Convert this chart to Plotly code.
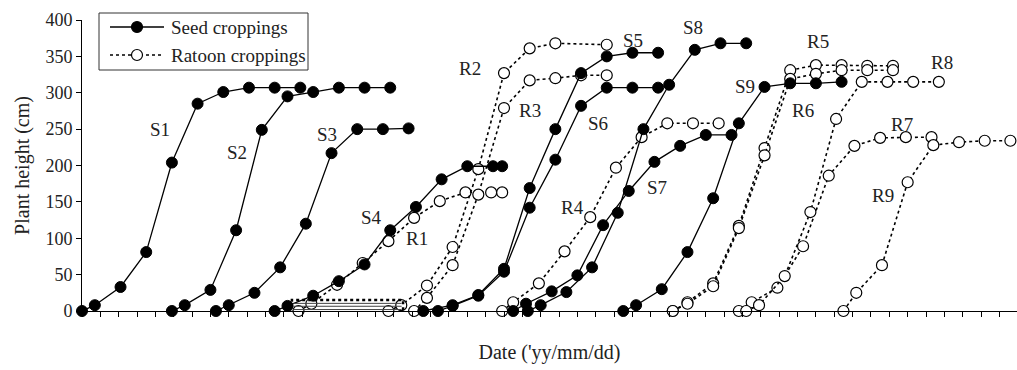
import plotly.graph_objects as go

# ---- data (x = days from start, y = plant height cm) ----
S1_x = [0, 3.5, 10.5, 17.5, 24.5, 31.5, 38.5, 45.5, 52.5, 59.5]
S1_y = [0, 8, 33, 81, 204, 285, 301, 307, 307, 307]
S2_x = [24.5, 28, 35, 42, 49, 56, 63, 70, 77, 84]
S2_y = [0, 8, 29, 111, 249, 295, 301, 307, 307, 307]
S3_x = [36.5, 40, 47, 54, 61, 68, 75, 82, 89]
S3_y = [0, 8, 25, 60, 120, 217, 250, 250, 251]
S4_x = [52.5, 56, 63, 70, 77, 84, 91, 98, 105, 112, 114.5]
S4_y = [0, 7, 21, 41, 64, 111, 143, 181, 199, 199, 199]
S5_x = [93, 101, 108, 115, 122, 129, 136, 143, 150, 157]
S5_y = [0, 8, 22, 58, 169, 250, 327, 350, 355, 355]
S6_x = [97, 101, 108, 115, 122, 129, 136, 143, 150, 157]
S6_y = [0, 7, 21, 54, 142, 208, 282, 307, 307, 307]
S7_x = [117.5, 121, 128, 135, 142, 149, 156, 163, 170, 177]
S7_y = [0, 10, 27, 49, 118, 165, 205, 227, 242, 242]
S8_x = [121.5, 125, 132, 139, 146, 153, 160, 167, 174, 181]
S8_y = [0, 8, 26, 60, 135, 250, 311, 359, 368, 368]
S9_x = [147.5, 151, 158, 165, 172, 179, 186, 193, 200, 207]
S9_y = [0, 8, 30, 81, 155, 258, 308, 313, 313, 315]

R1_x = [59, 62.5, 69.5, 76.5, 83.5, 90.5, 97.5, 104.5, 111.5, 114.5]
R1_y = [0, 10, 36, 66, 96, 128, 151, 163, 163, 163]
R2_x = [83.5, 87, 94, 101, 108, 115, 122, 129, 143]
R2_y = [0, 8, 35, 88, 195, 327, 361, 368, 366]
R3_x = [90.5, 94, 101, 108, 115, 122, 129, 136, 143]
R3_y = [0, 18, 63, 160, 279, 317, 320, 324, 324]
R4_x = [114.5, 117.5, 124.5, 131.5, 138.5, 145.5, 152.5, 159.5, 166.5, 173.5]
R4_y = [0, 12, 38, 82, 129, 197, 239, 258, 258, 258]
R5_x = [161, 165, 172, 179, 186, 193, 200, 207, 214, 221]
R5_y = [0, 12, 38, 117, 224, 331, 338, 338, 337, 337]
R6_x = [161, 165, 172, 179, 186, 193, 200, 207, 214, 221]
R6_y = [0, 10, 34, 114, 214, 319, 326, 331, 331, 331]
R7_x = [179, 182.5, 189.5, 196.5, 203.5, 210.5, 217.5, 224.5, 231.5]
R7_y = [0, 12, 32, 89, 186, 227, 238, 239, 239]
R8_x = [181, 184.5, 191.5, 198.5, 205.5, 212.5, 219.5, 226.5, 233.5]
R8_y = [0, 8, 48, 136, 264, 315, 315, 315, 315]
R9_x = [207.5, 211, 218, 225, 232, 239, 246, 253]
R9_y = [0, 25, 63, 177, 228, 232, 234, 234]

seed = [(S1_x, S1_y), (S2_x, S2_y), (S3_x, S3_y), (S4_x, S4_y), (S5_x, S5_y),
        (S6_x, S6_y), (S7_x, S7_y), (S8_x, S8_y), (S9_x, S9_y)]
ratoon = [(R1_x, R1_y), (R2_x, R2_y), (R3_x, R3_y), (R4_x, R4_y), (R5_x, R5_y),
          (R6_x, R6_y), (R7_x, R7_y), (R8_x, R8_y), (R9_x, R9_y)]

label_text = ["S1", "S2", "S3", "S4", "R1", "R2", "R3", "S5", "S6", "S8", "S9",
              "R4", "S7", "R5", "R6", "R8", "R7", "R9"]
label_x = [21.3, 42.2, 66.8, 79.0, 91.3, 105.7, 122.1, 150.1, 140.6, 166.5, 180.7,
           133.8, 156.7, 200.5, 196.5, 234.3, 223.4, 218.3]
label_y = [249, 218, 242, 128, 99, 334, 276, 372, 258, 390, 309,
           142, 170, 370, 276, 342, 257, 159]

y_ticks = [0, 50, 100, 150, 200, 250, 300, 350, 400]
legend_names = ["Seed croppings", "Ratoon croppings"]

FONT = "Liberation Serif"
fig = go.Figure()

for xs, ys in ratoon:
    fig.add_trace(go.Scatter(
        x=xs, y=ys, mode="lines+markers", showlegend=False, cliponaxis=False,
        line=dict(color="black", width=1.6, dash="3px,3px"),
        marker=dict(symbol="circle", size=11, color="white",
                    line=dict(color="black", width=1.2))))
for xs, ys in seed:
    fig.add_trace(go.Scatter(
        x=xs, y=ys, mode="lines+markers", showlegend=False, cliponaxis=False,
        line=dict(color="black", width=1.3),
        marker=dict(symbol="circle", size=11, color="black",
                    line=dict(color="black", width=1))))

for t, lx, ly in zip(label_text, label_x, label_y):
    fig.add_annotation(x=lx, y=ly, text=t, showarrow=False,
                       font=dict(family=FONT, size=19, color="#222"))

# ---- manual legend (paper coords; plot area 82..1017 x 20..311 px) ----
def px(v):
    return (v - 82) / 935.0
def py(v):
    return (311 - v) / 291.0

fig.add_shape(type="rect", xref="paper", yref="paper",
              x0=px(99), x1=px(308), y0=py(70), y1=py(13),
              line=dict(color="#333", width=1), fillcolor="white", layer="above")
rows = [(27, "solid", "black"), (55, "3px,3px", "white")]
for (ry, dash, fill), name in zip(rows, legend_names):
    fig.add_shape(type="line", xref="paper", yref="paper",
                  x0=px(110), x1=px(164), y0=py(ry), y1=py(ry),
                  line=dict(color="black", width=1.5, dash=dash), layer="above")
    fig.add_shape(type="circle", xref="paper", yref="paper",
                  xsizemode="pixel", ysizemode="pixel",
                  xanchor=px(137), yanchor=py(ry),
                  x0=-5.5, x1=5.5, y0=-5.5, y1=5.5,
                  fillcolor=fill, line=dict(color="black", width=1.2),
                  layer="above")
    fig.add_annotation(xref="paper", yref="paper", x=px(169), y=py(ry),
                       xanchor="left", yanchor="middle", text=name,
                       showarrow=False,
                       font=dict(family=FONT, size=19, color="#222"))

# dotted box artifact near the axis
fig.add_shape(type="rect", x0=57.2, x1=87.5, y0=-11, y1=15,
              line=dict(color="black", width=2.5, dash="dot"), layer="above")
for hy in [-6.5, -2.5, 2, 6.5, 10.5]:
    fig.add_shape(type="line", x0=57.6, x1=87.1, y0=hy, y1=hy,
                  line=dict(color="#444", width=1), layer="above")

fig.update_layout(
    width=1017, height=370,
    margin=dict(l=82, r=0, t=20, b=59),
    plot_bgcolor="white", paper_bgcolor="white",
    font=dict(family=FONT, size=18, color="black"),
    showlegend=False,
    xaxis=dict(range=[0, 254.8], showgrid=False, zeroline=False,
               showline=True, linecolor="black", linewidth=1,
               ticks="outside", tickmode="linear", tick0=0, dtick=5,
               ticklen=5, tickcolor="black", showticklabels=False,
               title=dict(text="Date ('yy/mm/dd)", standoff=28,
                          font=dict(family=FONT, size=20, color="#222"))),
    yaxis=dict(range=[0, 400], showgrid=False, zeroline=False,
               showline=True, linecolor="black", linewidth=1,
               ticks="outside", tickvals=y_ticks, ticklen=5,
               tickcolor="black",
               tickfont=dict(family=FONT, size=18, color="#222"),
               title=dict(text="Plant height (cm)", standoff=10,
                          font=dict(family=FONT, size=20, color="#222"))),
)

fig.write_html("out.html")
